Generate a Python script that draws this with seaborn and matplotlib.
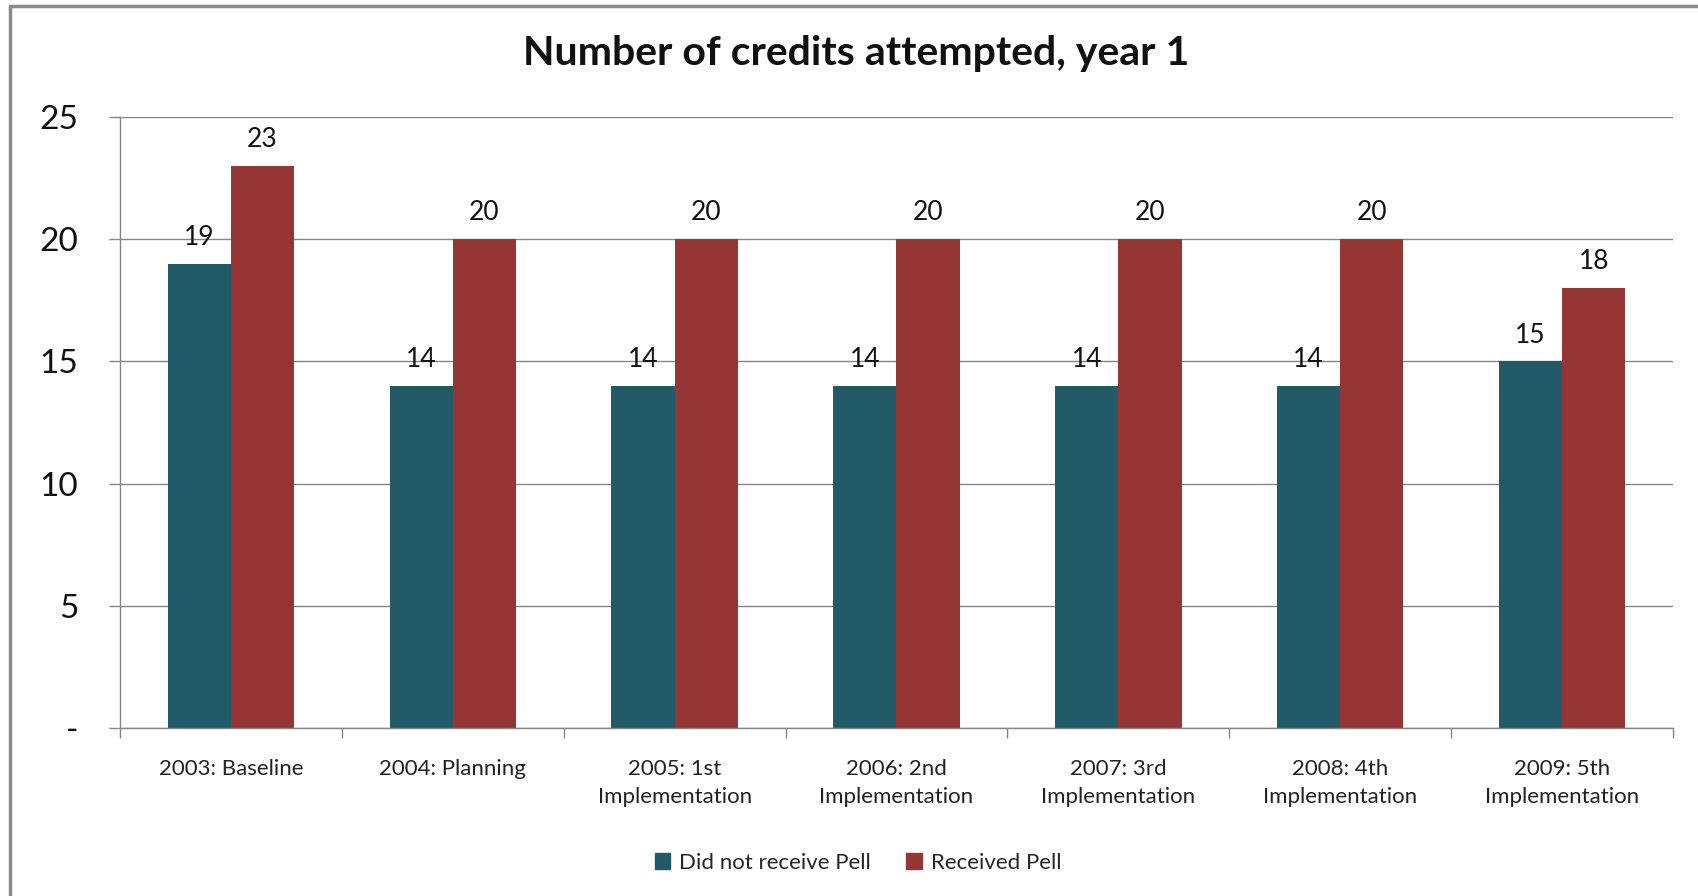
import matplotlib.pyplot as plt
import matplotlib.patches as mpatches
import pandas as pd
import seaborn as sns

# Chart data
years = [
    "2003: Baseline",
    "2004: Planning",
    "2005: 1st\nImplementation",
    "2006: 2nd\nImplementation",
    "2007: 3rd\nImplementation",
    "2008: 4th\nImplementation",
    "2009: 5th\nImplementation",
]
no_pell = [19, 14, 14, 14, 14, 14, 15]
pell = [23, 20, 20, 20, 20, 20, 18]
series = ["Did not receive Pell", "Received Pell"]
colors = ["#235A68", "#963634"]

df = pd.DataFrame({
    "year": years * 2,
    "value": no_pell + pell,
    "group": [series[0]] * len(years) + [series[1]] * len(years),
})

sns.set_style("white")
plt.rcParams["font.family"] = ["Lato", "DejaVu Sans"]

fig = plt.figure(figsize=(16.99, 8.96), dpi=100)
ax = fig.add_axes([0.0706, 0.1875, 0.9141, 0.6819])

sns.barplot(
    data=df,
    x="year",
    y="value",
    hue="group",
    hue_order=series,
    palette=colors,
    width=0.57,
    gap=0,
    saturation=1,
    linewidth=0,
    ax=ax,
)
ax.get_legend().remove()

# Data labels
for cont in ax.containers:
    ax.bar_label(cont, fmt="%d", padding=10, fontsize=19, color="#111111")

ax.set_ylim(0, 25)
ax.set_xlim(-0.5, len(years) - 0.5)
ax.set_yticks([0, 5, 10, 15, 20, 25])
ax.set_yticklabels(["-", "5", "10", "15", "20", "25"], fontsize=24, color="#111111")
ax.tick_params(axis="y", length=8, width=1, color="#868686", pad=22, left=True)

# Category tick marks between groups
ax.set_xticks(range(len(years)))
ax.set_xticklabels(years, fontsize=16, color="#222222", linespacing=1.55)
ax.set_xticks([i - 0.5 for i in range(len(years) + 1)], minor=True)
ax.tick_params(axis="x", which="major", length=0, pad=22)
ax.tick_params(axis="x", which="minor", length=7, width=1, color="#868686", bottom=True)

ax.set_xlabel("")
ax.set_ylabel("")
ax.yaxis.grid(True, color="#868686", linewidth=1)
ax.set_axisbelow(True)
for side in ["top", "right"]:
    ax.spines[side].set_visible(False)
for side in ["left", "bottom"]:
    ax.spines[side].set_color("#868686")
    ax.spines[side].set_linewidth(1)

fig.text(0.504, 0.940, "Number of credits attempted, year 1",
         ha="center", va="center", fontsize=29.5, fontweight="bold", color="#111111")

handles = [mpatches.Patch(color=c, label=s) for c, s in zip(colors, series)]
fig.legend(
    handles=handles,
    loc="center",
    bbox_to_anchor=(0.505, 0.037),
    ncol=2,
    frameon=False,
    fontsize=16,
    handlelength=0.7,
    handleheight=0.7,
    handletextpad=0.4,
    columnspacing=1.6,
)

# Outer chart border (cropped on right and bottom)
border = mpatches.Rectangle(
    (10 / 1699, -0.1), 1.2, 1.1 - 6 / 896,
    transform=fig.transFigure, fill=False, edgecolor="#8a8a8a",
    linewidth=2.5, clip_on=False,
)
fig.patches.append(border)

fig.savefig("out.png", dpi=100)
